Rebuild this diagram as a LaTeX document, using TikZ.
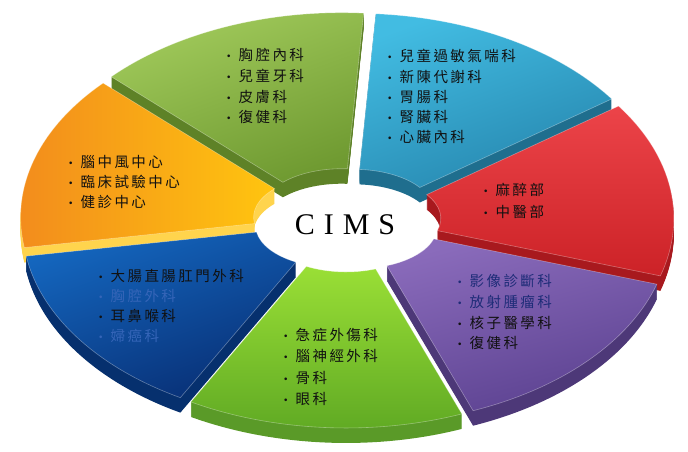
\documentclass[tikz,border=0pt]{standalone}
\usepackage{fontspec}
\newfontfamily\cjk{Noto Sans CJK TC}[LetterSpace=17]
\newfontfamily\cimsfont{Liberation Serif}
\definecolor{tgTop}{HTML}{A2CB5C}\definecolor{tgBot}{HTML}{6F9A31}\definecolor{tgSide}{HTML}{5E8227}
\definecolor{blTop}{HTML}{42BCE2}\definecolor{blBot}{HTML}{2686AE}\definecolor{blSide}{HTML}{1F6E8E}
\definecolor{rdTop}{HTML}{EC4449}\definecolor{rdBot}{HTML}{CC2227}\definecolor{rdSide}{HTML}{A8191E}
\definecolor{puTop}{HTML}{8A6BBB}\definecolor{puBot}{HTML}{5B4190}\definecolor{puSide}{HTML}{4D3878}
\definecolor{bgTop}{HTML}{9ADF36}\definecolor{bgBot}{HTML}{5EA823}\definecolor{bgSide}{HTML}{5A9A28}
\definecolor{nvTop}{HTML}{1466BE}\definecolor{nvBot}{HTML}{082F75}\definecolor{nvSide}{HTML}{06306E}
\definecolor{orTop}{HTML}{F28A1D}\definecolor{orBot}{HTML}{FFC50F}\definecolor{orSide}{HTML}{FFD44D}
\definecolor{txtNavy}{HTML}{3565B8}\definecolor{txtPur}{HTML}{1E2C78}\definecolor{txtDark}{HTML}{111111}
\def\cx{347}\def\cy{232}
\def\ao{313}\def\bo{198}\def\ai{80}\def\bi{42}
\def\ex{14}\def\ey{10}\def\th{15}
\newcommand\segpath[2]{({\ao*cos(#1)},{\bo*sin(#1)}) arc[start angle=#1,end angle=#2,x radius=\ao,y radius=\bo] -- ({\ai*cos(#2)},{\bi*sin(#2)}) arc[start angle=#2,end angle=#1,x radius=\ai,y radius=\bi] -- cycle}
\newcommand\ringseg[6]{%
  \pgfmathsetmacro\ox{\cx+\ex*cos((#1+#2)/2)}%
  \pgfmathsetmacro\oy{\cy+\ey*sin((#1+#2)/2)}%
  \foreach \k in {1,...,\th}{\fill[#3,shift={(\ox,\oy-\k)}] \segpath{#1}{#2};}%
  \shade[shift={(\ox,\oy)},top color=#4,bottom color=#5,shading angle=#6] \segpath{#1}{#2};%
  \draw[white,opacity=.35,line width=.6pt,shift={(\ox,\oy)}] \segpath{#1}{#2};%
}
\newcommand\bul{\raisebox{1.8pt}{\fontsize{9.5}{9.5}\selectfont\rmfamily\textbullet}\hspace{6pt}}
\tikzset{itm/.style={anchor=west,inner sep=0pt,text=txtDark,font=\cjk\fontsize{14.5}{16}\selectfont}}
\begin{document}
\begin{tikzpicture}[x=1pt,y=1pt]
\useasboundingbox (0,0) rectangle (688,452);
\fill[white] (0,0) rectangle (688,452);
% segments, back to front
\ringseg{137.43}{86}{tgSide}{tgTop}{tgBot}{20}
\ringseg{86}{34.57}{blSide}{blTop}{blBot}{20}
\ringseg{188.86}{137.43}{orSide}{orTop}{orBot}{90}
\ringseg{34.57}{-16.86}{rdSide}{rdTop}{rdBot}{0}
\ringseg{240.29}{188.86}{nvSide}{nvTop}{nvBot}{20}
\ringseg{-16.86}{-68.29}{puSide}{puTop}{puBot}{15}
\ringseg{-68.29}{-119.71}{bgSide}{bgTop}{bgBot}{0}
% centre label
\node[font=\cimsfont\fontsize{30}{30}\selectfont,inner sep=0pt] (cims) at (345,227) {C\hspace{9pt}I\hspace{9pt}M\hspace{9pt}S};
% top green
\node[itm] (g1) at (225,397) {\bul 胸腔內科};
\node[itm] (g2) at (225,376) {\bul 兒童牙科};
\node[itm] (g3) at (225,355) {\bul 皮膚科};
\node[itm] (g4) at (225,335) {\bul 復健科};
% blue
\node[itm] (b1) at (386,396) {\bul 兒童過敏氣喘科};
\node[itm] (b2) at (386,375) {\bul 新陳代謝科};
\node[itm] (b3) at (386,355) {\bul 胃腸科};
\node[itm] (b4) at (386,335) {\bul 腎臟科};
\node[itm] (b5) at (386,315) {\bul 心臟內科};
% red
\node[itm] (r1) at (482,262) {\bul 麻醉部};
\node[itm] (r2) at (482,240) {\bul 中醫部};
% orange
\node[itm] (o1) at (67,290) {\bul 腦中風中心};
\node[itm] (o2) at (67,270) {\bul 臨床試驗中心};
\node[itm] (o3) at (67,250) {\bul 健診中心};
% navy
\node[itm] (n1) at (97,176) {\bul 大腸直腸肛門外科};
\node[itm,text=txtNavy] (n2) at (97,156) {\bul 胸腔外科};
\node[itm] (n3) at (97,136) {\bul 耳鼻喉科};
\node[itm,text=txtNavy] (n4) at (97,116) {\bul 婦癌科};
% bottom green
\node[itm] (q1) at (282,117) {\bul 急症外傷科};
\node[itm] (q2) at (282,96) {\bul 腦神經外科};
\node[itm] (q3) at (282,74) {\bul 骨科};
\node[itm] (q4) at (282,53) {\bul 眼科};
% purple
\node[itm,text=txtPur] (p1) at (456,171) {\bul 影像診斷科};
\node[itm,text=txtPur] (p2) at (456,150) {\bul 放射腫瘤科};
\node[itm] (p3) at (456,129) {\bul 核子醫學科};
\node[itm] (p4) at (456,109) {\bul 復健科};
\end{tikzpicture}
\end{document}
